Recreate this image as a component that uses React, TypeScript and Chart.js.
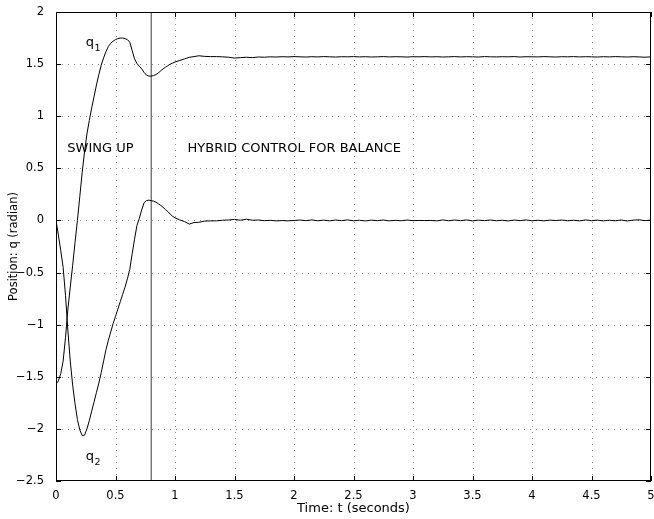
import React, { useEffect, useRef } from "react";
import { Chart, registerables } from "chart.js";

Chart.register(...registerables);

// Sample times (s)
const timeSec: number[] = [
  0, 0.02, 0.04, 0.06, 0.08, 0.1, 0.12, 0.14, 0.16, 0.18,
  0.2, 0.22, 0.24, 0.26, 0.28, 0.3, 0.32, 0.34, 0.36, 0.38,
  0.4, 0.42, 0.44, 0.46, 0.48, 0.5, 0.52, 0.54, 0.56, 0.58,
  0.6, 0.62, 0.64, 0.66, 0.68, 0.7, 0.72, 0.74, 0.76, 0.78,
  0.8, 0.82, 0.84, 0.86, 0.88, 0.9, 0.92, 0.94, 0.96, 0.98,
  1.0, 1.04, 1.08, 1.12, 1.16, 1.2, 1.25, 1.3,
  1.35, 1.4, 1.45, 1.5, 1.55, 1.6, 1.65, 1.7, 1.75, 1.8,
  1.85, 1.9, 1.95, 2.0, 2.05, 2.1, 2.15, 2.2, 2.25, 2.3,
  2.35, 2.4, 2.45, 2.5, 2.55, 2.6, 2.65, 2.7, 2.75, 2.8,
  2.85, 2.9, 2.95, 3.0, 3.05, 3.1, 3.15, 3.2, 3.25, 3.3,
  3.35, 3.4, 3.45, 3.5, 3.55, 3.6, 3.65, 3.7, 3.75, 3.8,
  3.85, 3.9, 3.95, 4.0, 4.05, 4.1, 4.15, 4.2, 4.25, 4.3,
  4.35, 4.4, 4.45, 4.5, 4.55, 4.6, 4.65, 4.7, 4.75, 4.8,
  4.85, 4.9, 4.95, 5.0,
];

// Joint 1 position q1 (rad)
const q1: number[] = [
  -1.57, -1.54, -1.47, -1.35, -1.12, -0.85, -0.64, -0.43, -0.21, 0.0,
  0.23, 0.46, 0.66, 0.83, 0.96, 1.08, 1.19, 1.3, 1.4, 1.49,
  1.56, 1.62, 1.67, 1.7, 1.72, 1.735, 1.745, 1.75, 1.75, 1.745,
  1.735, 1.71, 1.63, 1.55, 1.505, 1.48, 1.455, 1.42, 1.395, 1.385,
  1.385, 1.39, 1.4, 1.415, 1.435, 1.455, 1.47, 1.485, 1.5, 1.51,
  1.52, 1.535, 1.55, 1.565, 1.572, 1.58, 1.574, 1.572,
  1.572, 1.57, 1.566, 1.558, 1.562, 1.566, 1.562, 1.568, 1.566, 1.57,
  1.568, 1.571, 1.569, 1.572, 1.57, 1.568, 1.571, 1.569, 1.572, 1.57,
  1.568, 1.571, 1.57, 1.572, 1.569, 1.571, 1.568, 1.57, 1.572, 1.569,
  1.571, 1.57, 1.568, 1.571, 1.57, 1.572, 1.569, 1.571, 1.568, 1.57,
  1.572, 1.569, 1.571, 1.57, 1.568, 1.572, 1.57, 1.569, 1.571, 1.57,
  1.572, 1.568, 1.571, 1.57, 1.569, 1.572, 1.57, 1.568, 1.571, 1.57,
  1.572, 1.569, 1.571, 1.57, 1.568, 1.571, 1.569, 1.572, 1.57, 1.568,
  1.571, 1.569, 1.566, 1.57,
];

// Joint 2 position q2 (rad)
const q2: number[] = [
  0.0, -0.14, -0.29, -0.45, -0.72, -1.06, -1.35, -1.58, -1.76, -1.91,
  -2.01, -2.065, -2.06, -2.0, -1.92, -1.83, -1.74, -1.65, -1.56, -1.46,
  -1.35, -1.24, -1.15, -1.07, -0.99, -0.92, -0.85, -0.78, -0.71, -0.64,
  -0.56, -0.47, -0.32, -0.18, -0.05, 0.02, 0.1, 0.17, 0.19, 0.195,
  0.19, 0.185, 0.175, 0.16, 0.145, 0.125, 0.105, 0.085, 0.06, 0.04,
  0.025, 0.005, -0.01, -0.035, -0.02, -0.018, -0.006, -0.004,
  -0.004, 0.002, 0.004, 0.01, 0.002, 0.012, 0.002, 0.004, -0.002, 0.001,
  -0.004, -0.001, -0.004, 0.0, 0.004, -0.002, 0.005, -0.003, 0.003, -0.004,
  0.004, -0.002, 0.005, -0.003, 0.002, -0.005, 0.003, -0.002, 0.004, -0.004,
  0.001, -0.003, 0.004, -0.002, 0.0, -0.001, 0.0, -0.004, 0.005, -0.003,
  0.004, -0.002, 0.005, -0.004, 0.003, -0.002, 0.004, -0.003, 0.002, -0.005,
  0.004, -0.002, 0.005, -0.003, 0.002, -0.004, 0.003, -0.001, 0.004, -0.003,
  0.002, -0.004, 0.005, -0.002, 0.003, -0.004, 0.002, -0.003, 0.004, -0.005,
  0.003, 0.006, -0.002, 0.003,
];

// Moment the controller switches from swing-up to balance
const switchTime: number[] = [0.8, 0.8];
const switchSpan: number[] = [-2.5, 2];

const X_MIN = 0;
const X_MAX = 5;
const Y_MIN = -2.5;
const Y_MAX = 2;
const TICK_STEP = 0.5;

// Text labels placed in data coordinates: [text, x, y]
const phaseLabels: [string, number, number][] = [
  ["SWING UP", 0.095, 0.652],
  ["HYBRID CONTROL FOR BALANCE", 1.105, 0.652],
];
const jointLabels: [string, string, number, number][] = [
  ["q", "1", 0.25, 1.671],
  ["q", "2", 0.25, -2.302],
];

const FONT = '"DejaVu Sans", "Liberation Sans", Arial, sans-serif';

const fmt = (v: number) => (v < 0 ? "\u2212" + Math.abs(v) : String(v));

const framePlugin = {
  id: "matlabFrame",
  beforeDatasetsDraw(chart: any) {
    const { ctx, chartArea: a, scales } = chart;
    const xs = scales.x;
    const ys = scales.y;
    ctx.save();
    ctx.strokeStyle = "#8a8a8a";
    ctx.lineWidth = 1;
    ctx.setLineDash([1, 5]);
    xs.ticks.forEach((t: any) => {
      if (t.value <= X_MIN || t.value >= X_MAX) return;
      const px = Math.round(xs.getPixelForValue(t.value)) + 0.5;
      ctx.beginPath();
      ctx.moveTo(px, a.top);
      ctx.lineTo(px, a.bottom);
      ctx.stroke();
    });
    ys.ticks.forEach((t: any) => {
      if (t.value <= Y_MIN || t.value >= Y_MAX) return;
      const py = Math.round(ys.getPixelForValue(t.value)) + 0.5;
      ctx.beginPath();
      ctx.moveTo(a.left, py);
      ctx.lineTo(a.right, py);
      ctx.stroke();
    });
    ctx.restore();
  },
  afterDatasetsDraw(chart: any) {
    const { ctx, chartArea: a, scales } = chart;
    const xs = scales.x;
    const ys = scales.y;
    const tl = 5;
    ctx.save();
    ctx.strokeStyle = "#000";
    ctx.lineWidth = 1;
    ctx.setLineDash([]);
    ctx.strokeRect(a.left + 0.5, a.top + 0.5, a.right - a.left - 1, a.bottom - a.top - 1);
    ctx.beginPath();
    xs.ticks.forEach((t: any) => {
      const px = Math.round(xs.getPixelForValue(t.value)) + 0.5;
      ctx.moveTo(px, a.bottom);
      ctx.lineTo(px, a.bottom - tl);
      ctx.moveTo(px, a.top);
      ctx.lineTo(px, a.top + tl);
    });
    ys.ticks.forEach((t: any) => {
      const py = Math.round(ys.getPixelForValue(t.value)) + 0.5;
      ctx.moveTo(a.left, py);
      ctx.lineTo(a.left + tl, py);
      ctx.moveTo(a.right, py);
      ctx.lineTo(a.right - tl, py);
    });
    ctx.stroke();

    ctx.fillStyle = "#000";
    ctx.textBaseline = "alphabetic";
    ctx.textAlign = "left";
    ctx.font = "13px " + FONT;
    phaseLabels.forEach(([txt, x, y]) => {
      ctx.fillText(txt, xs.getPixelForValue(x), ys.getPixelForValue(y));
    });
    jointLabels.forEach(([base, sub, x, y]) => {
      const px = xs.getPixelForValue(x);
      const py = ys.getPixelForValue(y);
      ctx.font = "13px " + FONT;
      ctx.fillText(base, px, py);
      const w = ctx.measureText(base).width;
      ctx.font = "9.5px " + FONT;
      ctx.fillText(sub, px + w + 0.5, py + 5);
    });
    ctx.restore();
  },
};

export default function App() {
  const canvasRef = useRef<HTMLCanvasElement | null>(null);

  useEffect(() => {
    document.body.style.margin = "0";
    const canvas = canvasRef.current;
    if (!canvas) return;

    const q1Points = timeSec.map((t, i) => ({ x: t, y: q1[i] }));
    const q2Points = timeSec.map((t, i) => ({ x: t, y: q2[i] }));
    const switchPoints = switchTime.map((t, i) => ({ x: t, y: switchSpan[i] }));

    const chart = new Chart(canvas, {
      type: "line",
      data: {
        datasets: [
          {
            label: "q1",
            data: q1Points,
            borderColor: "#000",
            borderWidth: 1,
            pointRadius: 0,
            tension: 0,
          },
          {
            label: "q2",
            data: q2Points,
            borderColor: "#000",
            borderWidth: 1,
            pointRadius: 0,
            tension: 0,
          },
          {
            label: "switch",
            data: switchPoints,
            borderColor: "#3a3a3a",
            borderWidth: 1,
            pointRadius: 0,
            tension: 0,
          },
        ],
      },
      options: {
        responsive: false,
        animation: false,
        events: [],
        layout: { padding: { top: 12, right: 3, left: 0, bottom: 0 } },
        plugins: {
          legend: { display: false },
          tooltip: { enabled: false },
        },
        scales: {
          x: {
            type: "linear",
            min: X_MIN,
            max: X_MAX,
            grid: { display: false },
            border: { display: false },
            ticks: {
              stepSize: TICK_STEP,
              padding: 0,
              color: "#000",
              font: { family: FONT, size: 11.5 },
              maxRotation: 0,
              callback: (v: any) => fmt(Number(v)),
            },
            title: {
              display: true,
              text: "Time: t (seconds)",
              color: "#000",
              font: { family: FONT, size: 13 },
              padding: { top: 0, bottom: 3 },
            },
            afterFit: (s: any) => {
              s.height = 38;
              s.paddingLeft = 0;
              s.paddingRight = 0;
            },
          },
          y: {
            type: "linear",
            min: Y_MIN,
            max: Y_MAX,
            grid: { display: false },
            border: { display: false },
            ticks: {
              stepSize: TICK_STEP,
              padding: 4,
              color: "#000",
              font: { family: FONT, size: 11.5 },
              callback: (v: any) => fmt(Number(v)),
            },
            title: {
              display: true,
              text: "Position: q (radian)",
              color: "#000",
              font: { family: FONT, size: 11.5 },
              padding: { top: 7, bottom: 0 },
            },
            afterFit: (s: any) => {
              s.width = 56;
              s.paddingTop = 0;
              s.paddingBottom = 0;
            },
          },
        },
      },
      plugins: [framePlugin],
    });

    return () => chart.destroy();
  }, []);

  return (
    <div style={{ width: 654, height: 519, background: "#fff" }}>
      <canvas ref={canvasRef} width={654} height={519} style={{ width: 654, height: 519, display: "block" }} />
    </div>
  );
}
